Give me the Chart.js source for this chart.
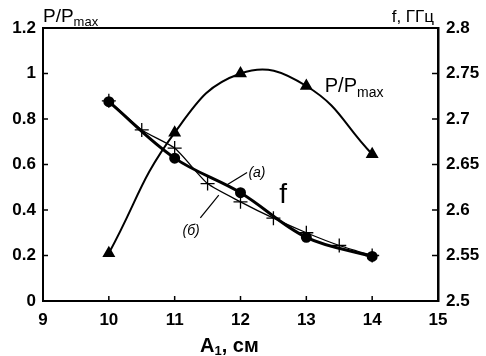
<!DOCTYPE html>
<html><head><meta charset="utf-8">
<script src="https://cdn.jsdelivr.net/npm/chart.js@4/dist/chart.umd.min.js"></script>
<style>html,body{margin:0;padding:0;background:#fff}#wrap{width:486px;height:356px}</style>
</head><body><div id="wrap"><canvas id="c" width="486" height="356"></canvas></div>
<script>
// A1, cm
const powerX = [10, 11, 12, 13, 14];
const powerY = [0.21, 0.74, 1.0, 0.945, 0.645];
const freqAX = [10, 11, 12, 13, 14];
const freqAY = [2.719, 2.657, 2.619, 2.570, 2.549];
const freqBX = [10, 10.5, 11, 11.5, 12, 12.5, 13, 13.5, 14];
const freqBY = [2.72, 2.688, 2.668, 2.629, 2.609, 2.591, 2.575, 2.561, 2.55];
const xTicks = [9, 10, 11, 12, 13, 14, 15];
const leftTicks = [0, 0.2, 0.4, 0.6, 0.8, 1, 1.2];
const rightTicks = [2.5, 2.55, 2.6, 2.65, 2.7, 2.75, 2.8];

const pts = (xs, ys) => xs.map((x, i) => ({x, y: ys[i]}));
const FONT = '"Liberation Sans", Arial, sans-serif';

const decor = {
  id: 'decor',
  afterDraw(chart) {
    const {ctx, chartArea: a, scales} = chart;
    const sx = scales.x, sy = scales.y, sy2 = scales.y2;
    ctx.save();
    ctx.strokeStyle = '#000';
    // frame top
    ctx.lineWidth = 2;
    ctx.beginPath(); ctx.moveTo(a.left, a.top); ctx.lineTo(a.right, a.top); ctx.stroke();
    // inward ticks
    ctx.lineWidth = 1.5;
    xTicks.forEach(v => { const p = sx.getPixelForValue(v); ctx.beginPath(); ctx.moveTo(p, a.bottom); ctx.lineTo(p, a.bottom - 5); ctx.stroke(); });
    leftTicks.forEach(v => { const p = sy.getPixelForValue(v); ctx.beginPath(); ctx.moveTo(a.left, p); ctx.lineTo(a.left + 5, p); ctx.stroke(); });
    rightTicks.forEach(v => { const p = sy2.getPixelForValue(v); ctx.beginPath(); ctx.moveTo(a.right, p); ctx.lineTo(a.right - 6, p); ctx.stroke(); });

    ctx.fillStyle = '#000';
    ctx.textBaseline = 'alphabetic';
    // top-left axis title P/Pmax
    ctx.textAlign = 'left';
    ctx.font = '19px ' + FONT;
    ctx.fillText('P/P', 43, 22);
    let w = ctx.measureText('P/P').width;
    ctx.font = '13px ' + FONT;
    ctx.fillText('max', 43 + w, 26);
    // top-right f, ГГц
    ctx.font = '17px ' + FONT;
    ctx.textAlign = 'right';
    ctx.fillText('f, ГГц', 434, 22);
    // x axis title A1, см
    ctx.textAlign = 'left';
    ctx.font = 'bold 20px ' + FONT;
    let x0 = 200;
    ctx.fillText('A', x0, 352);
    x0 += ctx.measureText('A').width;
    ctx.font = 'bold 13px ' + FONT;
    ctx.fillText('1', x0, 355);
    x0 += ctx.measureText('1').width;
    ctx.font = 'bold 20px ' + FONT;
    ctx.fillText(', см', x0, 352);

    // in-plot annotations (data coordinates)
    const X = v => sx.getPixelForValue(v), Y = v => sy.getPixelForValue(v);
    ctx.font = '20px ' + FONT;
    ctx.fillText('P/P', X(13.28), Y(0.92));
    w = ctx.measureText('P/P').width;
    ctx.font = '14px ' + FONT;
    ctx.fillText('max', X(13.28) + w, Y(0.895));
    ctx.font = '28px ' + FONT;
    ctx.fillText('f', X(12.59), Y(0.43));
    ctx.font = 'italic 14px ' + FONT;
    ctx.fillText('(а)', X(12.12), Y(0.545));
    ctx.fillText('(б)', X(11.12), Y(0.29));
    ctx.lineWidth = 1.2;
    ctx.beginPath(); ctx.moveTo(X(11.79), Y(0.51)); ctx.lineTo(X(12.1), Y(0.565)); ctx.stroke();
    ctx.beginPath(); ctx.moveTo(X(11.39), Y(0.365)); ctx.lineTo(X(11.67), Y(0.465)); ctx.stroke();
    ctx.restore();
  }
};

new Chart(document.getElementById('c'), {
  type: 'scatter',
  data: {
    datasets: [
      { data: pts(powerX, powerY), yAxisID: 'y', showLine: true, tension: 0.45,
        borderColor: '#000', backgroundColor: '#000', borderWidth: 2,
        pointStyle: 'triangle', pointRadius: 5.5 },
      { data: pts(freqAX, freqAY), yAxisID: 'y2', showLine: true, tension: 0.35,
        borderColor: '#000', backgroundColor: '#000', borderWidth: 3,
        pointStyle: 'circle', pointRadius: 4 },
      { data: pts(freqBX, freqBY), yAxisID: 'y2', showLine: true, tension: 0.2,
        borderColor: '#000', backgroundColor: '#000', borderWidth: 1.3,
        pointStyle: 'cross', pointRadius: 7, pointBorderWidth: 1.3 }
    ]
  },
  options: {
    responsive: false, animation: false, devicePixelRatio: 1,
    layout: { padding: { top: 28, left: 0, right: 0, bottom: 0 } },
    plugins: { legend: { display: false }, tooltip: { enabled: false } },
    scales: {
      x: { type: 'linear', min: 9, max: 15,
        afterBuildTicks: s => { s.ticks = xTicks.map(v => ({value: v})); },
        afterFit: s => { s.height = 55; },
        grid: { display: false, drawTicks: false },
        border: { display: true, color: '#000', width: 2 },
        ticks: { color: '#000', padding: 9, font: { family: FONT, size: 17, weight: 'bold' } } },
      y: { type: 'linear', position: 'left', min: 0, max: 1.2,
        afterBuildTicks: s => { s.ticks = leftTicks.map(v => ({value: v})); },
        afterFit: s => { s.width = 43; },
        grid: { display: false, drawTicks: false },
        border: { display: true, color: '#000', width: 2 },
        ticks: { color: '#000', padding: 7, callback: v => String(+v.toFixed(2)),
          font: { family: FONT, size: 17, weight: 'bold' } } },
      y2: { type: 'linear', position: 'right', min: 2.5, max: 2.8,
        afterBuildTicks: s => { s.ticks = rightTicks.map(v => ({value: v})); },
        afterFit: s => { s.width = 48; },
        grid: { display: false, drawTicks: false },
        border: { display: true, color: '#000', width: 2.5 },
        ticks: { color: '#000', padding: 8, callback: v => String(+v.toFixed(2)),
          font: { family: FONT, size: 17, weight: 'bold' } } }
    }
  },
  plugins: [decor]
});
</script>
</body></html>
